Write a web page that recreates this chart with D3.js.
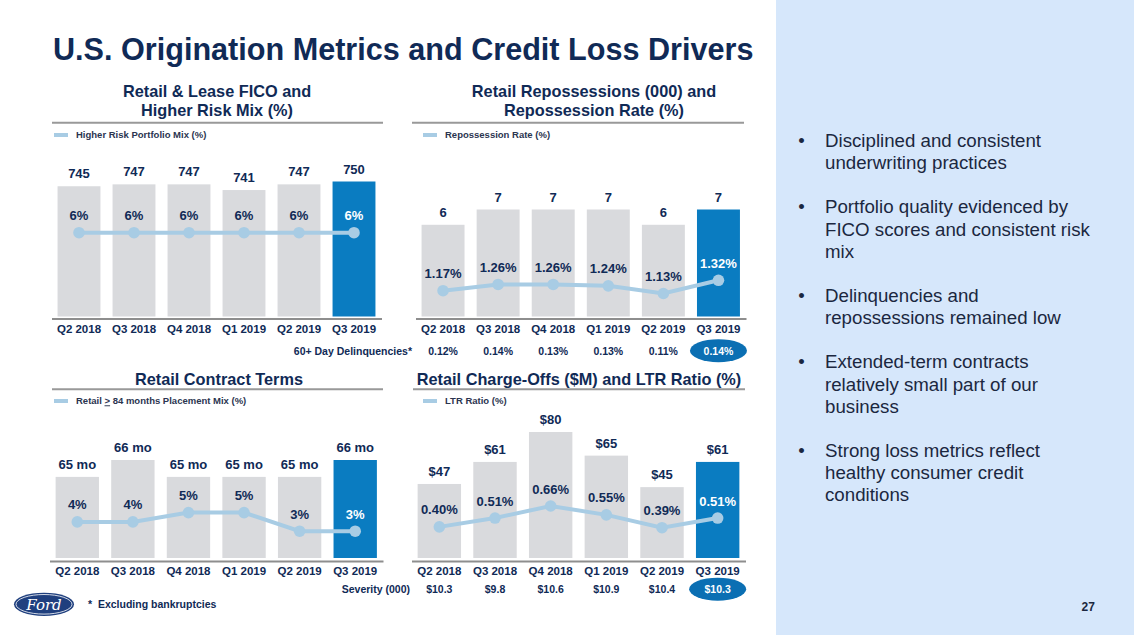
<!DOCTYPE html>
<html>
<head>
<meta charset="utf-8">
<script src="https://cdn.jsdelivr.net/npm/d3@7"></script>
<style>
  html, body { margin: 0; padding: 0; background: #ffffff; }
  svg { display: block; font-family: "Liberation Sans", Arial, sans-serif; }
</style>
</head>
<body>
<svg id="chart" width="1134" height="635"></svg>
<script>
// ---------------- DATA ----------------
const categories = ["Q2 2018", "Q3 2018", "Q4 2018", "Q1 2019", "Q2 2019", "Q3 2019"];
const ficoScores = [745, 747, 747, 741, 747, 750];
const higherRiskMix = [6, 6, 6, 6, 6, 6];
const repossessions = [6, 7, 7, 7, 6, 7];
const repossessionRate = [1.17, 1.26, 1.26, 1.24, 1.13, 1.32];
const delinquencies = [0.12, 0.14, 0.13, 0.13, 0.11, 0.14];
const contractTerms = [65, 66, 65, 65, 65, 66];
const placementMix = [4, 4, 5, 5, 3, 3];
const chargeOffs = [47, 61, 80, 65, 45, 61];
const ltrRatio = [0.40, 0.51, 0.66, 0.55, 0.39, 0.51];
const severity = [10.3, 9.8, 10.6, 10.9, 10.4, 10.3];

const bullets = [
  ["Disciplined and consistent", "underwriting practices"],
  ["Portfolio quality evidenced by", "FICO scores and consistent risk", "mix"],
  ["Delinquencies and", "repossessions remained low"],
  ["Extended-term contracts", "relatively small part of our", "business"],
  ["Strong loss metrics reflect", "healthy consumer credit", "conditions"]
];

// ---------------- STYLE ----------------
const NAVY = "#102a56";
const GRAY_BAR = "#d9dadd";
const BLUE_BAR = "#0a7cc1";
const LINE_BLUE = "#a8cce4";
const PANEL = "#d6e7fb";
const RULE = "#999999";

const svg = d3.select("#chart");

// right side panel
svg.append("rect").attr("x", 776).attr("y", 0).attr("width", 358).attr("height", 635).attr("fill", PANEL);

// main title
svg.append("text").attr("x", 53).attr("y", 59.5)
  .attr("font-size", 30.6).attr("font-weight", "bold").attr("fill", NAVY)
  .text("U.S. Origination Metrics and Credit Loss Drivers");

// ---------------- PANEL DRAWER ----------------
function drawPanel(cfg) {
  const g = svg.append("g");
  const n = categories.length;
  const last = n - 1;

  // title lines
  cfg.title.forEach((t, i) => {
    g.append("text").attr("x", cfg.titleX).attr("y", cfg.titleY[i])
      .attr("text-anchor", "middle").attr("font-size", 16.3).attr("font-weight", "bold")
      .attr("fill", NAVY).text(t);
  });
  // title rule
  g.append("line").attr("x1", cfg.ruleX[0]).attr("x2", cfg.ruleX[1])
    .attr("y1", cfg.ruleY).attr("y2", cfg.ruleY)
    .attr("stroke", RULE).attr("stroke-width", 2);

  // legend
  g.append("line").attr("x1", cfg.legendX).attr("x2", cfg.legendX + 14)
    .attr("y1", cfg.legendY).attr("y2", cfg.legendY)
    .attr("stroke", LINE_BLUE).attr("stroke-width", 4);
  const lt = g.append("text").attr("x", cfg.legendX + 22).attr("y", cfg.legendY + 3.3)
    .attr("font-size", 9.5).attr("font-weight", "bold").attr("fill", "#2b3550");
  cfg.legend.forEach(part => {
    const ts = lt.append("tspan").text(part.t);
    if (part.u) ts.attr("text-decoration", "underline");
  });

  const x = d3.scaleBand().domain(categories).range(cfg.xRange)
    .paddingInner(0.22).paddingOuter(0.11);
  const yBar = d3.scaleLinear().domain(cfg.barDomain).range([cfg.barBottom, cfg.barTopPx]);
  const yLine = d3.scaleLinear().domain(cfg.lineDomain).range(cfg.lineRange);

  // bars
  g.selectAll("rect.bar").data(cfg.bars).join("rect").attr("class", "bar")
    .attr("x", (d, i) => x(categories[i]))
    .attr("width", x.bandwidth())
    .attr("y", d => yBar(d))
    .attr("height", d => cfg.barBottom - yBar(d))
    .attr("fill", (d, i) => i === last ? BLUE_BAR : GRAY_BAR);

  // bar value labels
  g.selectAll("text.bv").data(cfg.bars).join("text").attr("class", "bv")
    .attr("x", (d, i) => x(categories[i]) + x.bandwidth() / 2)
    .attr("y", d => yBar(d) - 8)
    .attr("text-anchor", "middle").attr("font-size", 13).attr("font-weight", "bold")
    .attr("fill", NAVY).text(cfg.barFmt);

  // axis
  const axis = g.append("g").attr("transform", `translate(0,${cfg.axisY})`)
    .call(d3.axisBottom(x).tickSize(0).tickSizeOuter(0).tickPadding(cfg.tickPad));
  axis.select(".domain").attr("stroke", "#8e8e8e").attr("stroke-width", 2);
  axis.selectAll("text").attr("font-size", 11.5).attr("font-weight", "bold")
    .attr("fill", NAVY).attr("font-family", "Liberation Sans, Arial, sans-serif");

  // line
  const cx = (d, i) => x(categories[i]) + x.bandwidth() / 2;
  const line = d3.line().x(cx).y(d => yLine(d));
  g.append("path").datum(cfg.line).attr("d", line)
    .attr("fill", "none").attr("stroke", LINE_BLUE).attr("stroke-width", 4);
  g.selectAll("circle.pt").data(cfg.line).join("circle").attr("class", "pt")
    .attr("cx", cx).attr("cy", d => yLine(d)).attr("r", 5.8).attr("fill", LINE_BLUE);
  g.selectAll("text.lv").data(cfg.line).join("text").attr("class", "lv")
    .attr("x", cx).attr("y", d => yLine(d) - 12.5)
    .attr("text-anchor", "middle").attr("font-size", 13).attr("font-weight", "bold")
    .attr("fill", (d, i) => i === last ? "#ffffff" : NAVY).text(cfg.lineFmt);

  // extra row
  if (cfg.row) {
    g.append("text").attr("x", cfg.row.labelX).attr("y", cfg.row.y)
      .attr("text-anchor", "end").attr("font-size", 10.5).attr("font-weight", "bold")
      .attr("fill", NAVY).text(cfg.row.label);
    g.append("ellipse").attr("cx", cx(null, last)).attr("cy", cfg.row.y - 3.8)
      .attr("rx", 28.5).attr("ry", 11.5).attr("fill", "#0b6fb3");
    g.selectAll("text.rv").data(cfg.row.values).join("text").attr("class", "rv")
      .attr("x", cx).attr("y", cfg.row.y)
      .attr("text-anchor", "middle").attr("font-size", 10.5).attr("font-weight", "bold")
      .attr("fill", (d, i) => i === last ? "#ffffff" : NAVY).text(cfg.row.fmt);
  }
}

// Top-left: FICO
drawPanel({
  title: ["Retail & Lease FICO and", "Higher Risk Mix (%)"], titleX: 217, titleY: [96.5, 115.5],
  ruleX: [52, 383], ruleY: 122.7,
  legend: [{ t: "Higher Risk Portfolio Mix (%)" }], legendX: 54, legendY: 135,
  xRange: [51.5, 381.5], axisY: 318.5, tickPad: 6.8,
  bars: ficoScores, barDomain: [608, 750], barBottom: 316.5, barTopPx: 181.5, barFmt: d => d,
  line: higherRiskMix, lineDomain: [0, 12], lineRange: [316, 149.4], lineFmt: d => d + "%"
});

// Top-right: Repossessions
drawPanel({
  title: ["Retail Repossessions (000) and", "Repossession Rate (%)"], titleX: 594, titleY: [96.5, 115.5],
  ruleX: [412, 744], ruleY: 122.7,
  legend: [{ t: "Repossession Rate (%)" }], legendX: 423, legendY: 135,
  xRange: [415.5, 746], axisY: 318.5, tickPad: 6.8,
  bars: repossessions, barDomain: [0, 7], barBottom: 316.5, barTopPx: 209.5, barFmt: d => d,
  line: repossessionRate, lineDomain: [1.13, 1.32], lineRange: [293.5, 280.3], lineFmt: d => d.toFixed(2) + "%",
  row: { label: "60+ Day Delinquencies*", labelX: 412, y: 354.5, values: delinquencies, fmt: d => d.toFixed(2) + "%" }
});

// Bottom-left: Contract terms
drawPanel({
  title: ["Retail Contract Terms"], titleX: 219, titleY: [384.5],
  ruleX: [52, 383], ruleY: 389.3,
  legend: [{ t: "Retail " }, { t: ">", u: true }, { t: " 84 months Placement Mix (%)" }], legendX: 54, legendY: 401,
  xRange: [49.5, 383], axisY: 561, tickPad: 5.8,
  bars: contractTerms, barDomain: [60.2, 66], barBottom: 558, barTopPx: 460, barFmt: d => d + " mo",
  line: placementMix, lineDomain: [3, 5], lineRange: [531.2, 512.6], lineFmt: d => d + "%"
});

// Bottom-right: Charge-offs
drawPanel({
  title: ["Retail Charge-Offs ($M) and LTR Ratio (%)"], titleX: 579, titleY: [384.5],
  ruleX: [413, 745], ruleY: 389.3,
  legend: [{ t: "LTR Ratio (%)" }], legendX: 423, legendY: 401,
  xRange: [411.5, 745.5], axisY: 561, tickPad: 5.8,
  bars: chargeOffs, barDomain: [0, 80], barBottom: 558, barTopPx: 432, barFmt: d => "$" + d,
  line: ltrRatio, lineDomain: [0.39, 0.66], lineRange: [527.7, 506], lineFmt: d => d.toFixed(2) + "%",
  row: { label: "Severity (000)", labelX: 410, y: 593, values: severity, fmt: d => "$" + d.toFixed(1) }
});

// ---------------- RIGHT PANEL BULLETS ----------------
const bulletStarts = [146.7, 213.4, 302, 368.4, 456.7];
const lineH = 22.3;
bullets.forEach((lines, bi) => {
  svg.append("text").attr("x", 801.5).attr("y", bulletStarts[bi])
    .attr("text-anchor", "middle").attr("font-size", 18.5).attr("fill", "#1b2740").text("•");
  lines.forEach((t, li) => {
    svg.append("text").attr("x", 825).attr("y", bulletStarts[bi] + li * lineH)
      .attr("font-size", 18.7).attr("fill", "#1b2740").text(t);
  });
});

// ---------------- FOOTER ----------------
const logo = svg.append("g");
logo.append("ellipse").attr("cx", 44).attr("cy", 604.3).attr("rx", 30).attr("ry", 11.6).attr("fill", "#1f3f7e");
logo.append("ellipse").attr("cx", 44).attr("cy", 604.3).attr("rx", 28).attr("ry", 9.8)
  .attr("fill", "none").attr("stroke", "#ffffff").attr("stroke-width", 0.8);
logo.append("text").attr("x", 44).attr("y", 609.5).attr("text-anchor", "middle")
  .attr("font-family", "DejaVu Serif, serif").attr("font-style", "italic").attr("font-size", 15)
  .attr("fill", "#ffffff").text("Ford");

svg.append("text").attr("x", 88).attr("y", 608).attr("font-size", 10.5).attr("font-weight", "bold")
  .attr("fill", NAVY).attr("xml:space", "preserve").text("*  Excluding bankruptcies");

svg.append("text").attr("x", 1081.5).attr("y", 611).attr("font-size", 12).attr("font-weight", "bold")
  .attr("fill", "#1b2740").text("27");
</script>
</body>
</html>
